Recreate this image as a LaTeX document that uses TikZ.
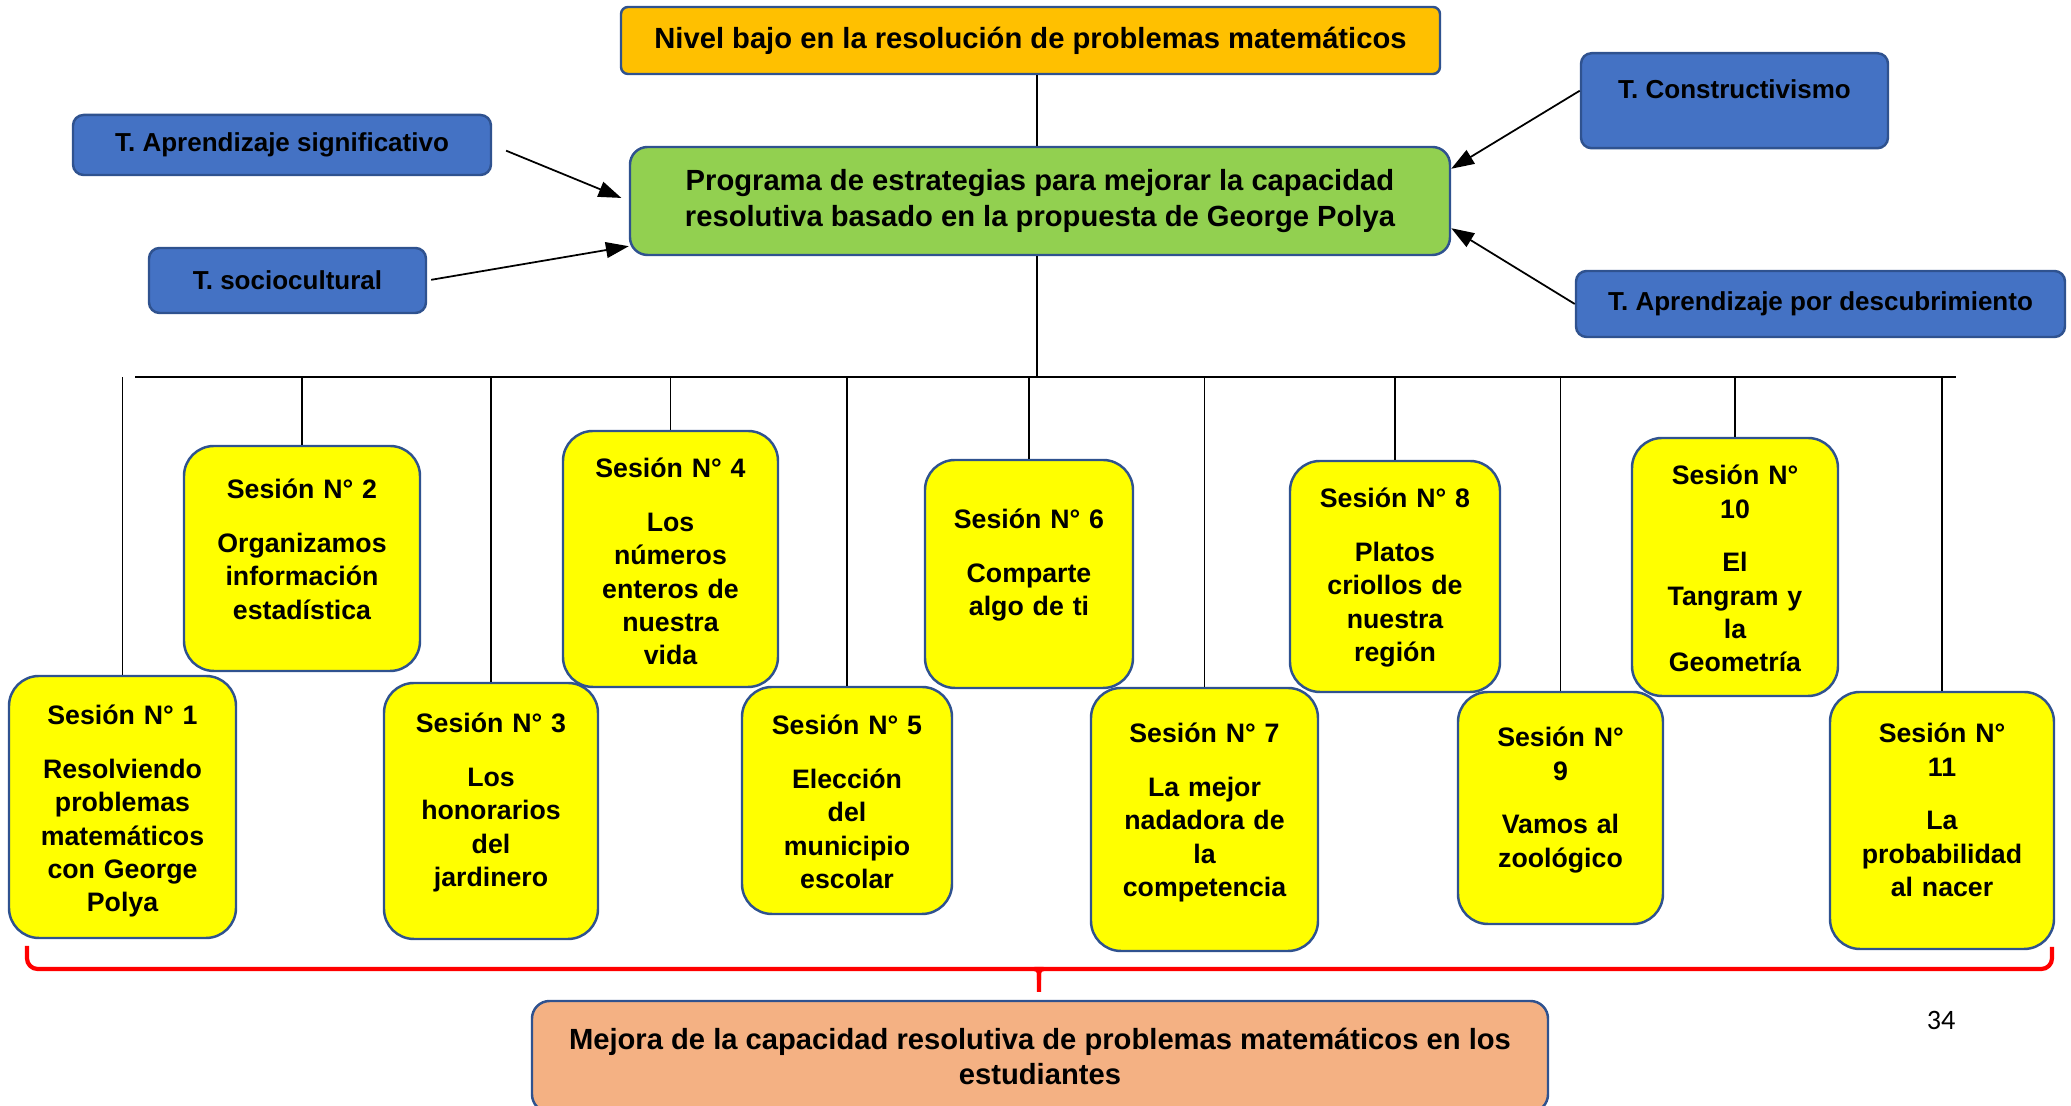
\documentclass[tikz,border=0pt]{standalone}
\usepackage{fontspec}
\setmainfont{Liberation Sans}
\newfontfamily\pagefont{Carlito}
\usetikzlibrary{arrows.meta}
\definecolor{Edge}{HTML}{2F528F}
\definecolor{Gold}{HTML}{FFC000}
\definecolor{Leaf}{HTML}{92D050}
\definecolor{Royal}{HTML}{4472C4}
\definecolor{Lemon}{HTML}{FFFF00}
\definecolor{Peach}{HTML}{F4B183}
\definecolor{Signal}{HTML}{FF0000}

\begin{document}
\begin{tikzpicture}[
    x=1cm,y=1cm,
    main/.style={draw=Edge, line width=0.7pt, rounded corners=2pt,
      align=center, inner sep=2pt, font=\bfseries\fontsize{8.3}{10.4}\selectfont},
    theory/.style={draw=Edge, line width=0.7pt, fill=Royal, rounded corners=3pt,
      inner sep=2pt, font=\bfseries\fontsize{7.4}{9}\selectfont},
    session/.style={draw=Edge, line width=0.7pt, fill=Lemon, rounded corners=0.3cm,
      text width=1.9cm, inner xsep=0.05cm, inner ysep=0pt, align=center,
      font=\bfseries\fontsize{7.6}{9.5}\selectfont},
    line/.style={line width=0.5pt},
    link/.style={-{Triangle[length=6.5pt,width=4.5pt]}, line width=0.5pt},
    bracket/.style={draw=Signal, line width=1.2pt, line join=round}
  ]
    \useasboundingbox (0,0) rectangle (20.71,11.06);

    \node[main, fill=Gold, minimum width=8.19cm, minimum height=0.67cm] (nivel) at (10.305,10.655)
      {Nivel bajo en la resolución de problemas matemáticos};

    \node[main, fill=Leaf, rounded corners=5pt, minimum width=8.20cm, minimum height=1.08cm] (prog) at (10.40,9.05)
      {Programa de estrategias para mejorar la capacidad\\
       resolutiva basado en la propuesta de George Polya};

    \node[theory, minimum width=4.18cm, minimum height=0.60cm] (signif) at (2.82,9.61)
      {T. Aprendizaje significativo};
    \node[theory, minimum width=2.77cm, minimum height=0.65cm] (socio) at (2.875,8.255)
      {T. sociocultural};
    \node[theory, anchor=north, minimum width=3.07cm, inner ysep=0.125cm,
      text height=0.33cm, text depth=0.37cm] (constr) at (17.345,10.54)
      {T. Constructivismo};
    \node[theory, minimum width=4.89cm, minimum height=0.66cm] (descub) at (18.205,8.02)
      {T. Aprendizaje por descubrimiento};

    \coordinate (hub) at (10.37,7.29);
    \coordinate (barL) at (1.35,7.29);
    \coordinate (barR) at (19.56,7.29);

    % text height = offset of the first baseline, text depth = rest of the box
    \node[session, minimum width=2.27cm, text height=0.49cm, text depth=2.13cm] (s1) at (1.225,2.99)
      {Sesión N° 1\\[0.2cm]Resolviendo\\problemas\\matemáticos\\con George\\Polya};
    \node[session, minimum width=2.36cm, text height=0.53cm, text depth=1.72cm] (s2) at (3.02,5.475)
      {Sesión N° 2\\[0.2cm]Organizamos\\información\\estadística};
    \node[session, minimum width=2.14cm, text height=0.50cm, text depth=2.06cm] (s3) at (4.91,2.95)
      {Sesión N° 3\\[0.2cm]Los\\honorarios\\del\\jardinero};
    \node[session, minimum width=2.15cm, text height=0.47cm, text depth=2.09cm] (s4) at (6.705,5.47)
      {Sesión N° 4\\[0.2cm]Los\\números\\enteros de\\nuestra\\vida};
    \node[session, minimum width=2.10cm, text height=0.48cm, text depth=1.79cm] (s5) at (8.47,3.055)
      {Sesión N° 5\\[0.2cm]Elección\\del\\municipio\\escolar};
    \node[session, minimum width=2.08cm, text height=0.69cm, text depth=1.59cm] (s6) at (10.29,5.32)
      {Sesión N° 6\\[0.2cm]Comparte\\algo de ti};
    \node[session, minimum width=2.27cm, text height=0.55cm, text depth=2.08cm] (s7) at (12.045,2.865)
      {Sesión N° 7\\[0.2cm]La mejor\\nadadora de\\la\\competencia};
    \node[session, minimum width=2.10cm, text height=0.47cm, text depth=1.84cm] (s8) at (13.95,5.295)
      {Sesión N° 8\\[0.2cm]Platos\\criollos de\\nuestra\\región};
    \node[session, minimum width=2.05cm, text height=0.55cm, text depth=1.77cm] (s9) at (15.605,2.98)
      {Sesión N°\\9\\[0.2cm]Vamos al\\zoológico};
    \node[session, minimum width=2.06cm, text height=0.47cm, text depth=2.11cm] (s10) at (17.35,5.39)
      {Sesión N°\\10\\[0.2cm]El\\Tangram y\\la\\Geometría};
    \node[session, minimum width=2.24cm, text height=0.51cm, text depth=2.06cm] (s11) at (19.42,2.855)
      {Sesión N°\\11\\[0.2cm]La\\probabilidad\\al nacer};

    \coordinate (braceL) at (0.27,1.60);
    \coordinate (braceR) at (20.52,1.59);
    \coordinate (spike) at (10.39,1.37);
    \coordinate (tip) at (10.39,1.14);

    \node[main, fill=Peach, rounded corners=5pt, minimum width=10.16cm, minimum height=1.11cm,
      font=\bfseries\fontsize{8.3}{9.7}\selectfont] (mejora) at (10.40,0.495)
      {Mejora de la capacidad resolutiva de problemas matemáticos en los\\estudiantes};

    \node[font=\pagefont\fontsize{8}{9}\selectfont] (pagina) at (19.41,0.86) {34};

    \draw[line] (nivel.south -| hub) -- (prog.north -| hub);
    \draw[line] (prog.south -| hub) -- (hub);
    \draw[line] (barL) -- (barR);

    \draw[line] (s1.north) -- (s1.north |- hub);
    \draw[line] (s2.north) -- (s2.north |- hub);
    \draw[line] (s3.north) -- (s3.north |- hub);
    \draw[line] (s4.north) -- (s4.north |- hub);
    \draw[line] (s5.north) -- (s5.north |- hub);
    \draw[line] (s6.north) -- (s6.north |- hub);
    \draw[line] (s7.north) -- (s7.north |- hub);
    \draw[line] (s8.north) -- (s8.north |- hub);
    \draw[line] (s9.north) -- (s9.north |- hub);
    \draw[line] (s10.north) -- (s10.north |- hub);
    \draw[line] (s11.north) -- (s11.north |- hub);

    \draw[link, shorten <=0.15cm, shorten >=0.08cm] (signif.east) -- (prog.west);
    \draw[link, shorten <=0.04cm] (socio.east) -- ([yshift=0.1cm]prog.south west);
    \draw[link] ([yshift=0.1cm]constr.west) -- ([yshift=-0.23cm]prog.north east);
    \draw[link] (descub.west) -- ([yshift=0.28cm]prog.south east);

    % red bracket over the sessions
    \draw[bracket] (braceL) [rounded corners=3pt] |- ([xshift=-0.06cm]spike)
      [sharp corners] to[out=0,in=90] ([yshift=0.12cm]tip) -- (tip);
    \draw[bracket] (braceR) [rounded corners=3pt] |- ([xshift=0.06cm]spike)
      [sharp corners] to[out=180,in=90] ([yshift=0.12cm]tip);
  \end{tikzpicture}
\end{document}
